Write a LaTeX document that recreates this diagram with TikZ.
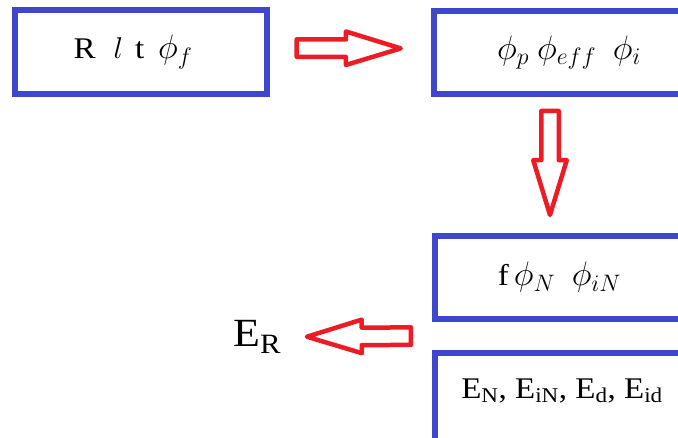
\RequirePackage{fix-cm}
\documentclass[tikz,border=0pt]{standalone}
\usepackage{fontspec}
\setmainfont{Liberation Serif}[FakeStretch=1.1]
\usepackage{tikz}
\usetikzlibrary{shapes.arrows, calc}

\definecolor{boxblue}{RGB}{63,72,204}
\definecolor{arrowred}{RGB}{237,28,36}

% phi with its index, set a little larger than the box text
\newcommand{\fphi}[1]{{\fontsize{34}{36}\selectfont$\phi_{#1}$}}

\tikzset{
    varbox/.style={draw=boxblue, line width=6pt, fill=white, inner sep=0pt,
        font=\fontsize{30}{36}\selectfont},
    hollowarrow/.style={single arrow, draw=arrowred, fill=white, line width=4.5pt,
        line join=round, minimum height=104pt, minimum width=29pt, inner sep=6.5pt,
        single arrow head extend=8pt, single arrow tip angle=34,
        sloped, allow upside down}
}

\begin{document}
\begin{tikzpicture}[x=1pt, y=1pt]

    \useasboundingbox (0,0) rectangle (678,437);
    \clip (0,0) rectangle (678,437);

    % =====================================================
    % BOXES
    % =====================================================
    \node[varbox, minimum width=252pt, minimum height=84pt] (rlt) at (141,385)
        {R\hspace{18pt}$l$\hspace{12pt}t\hspace{14pt}\fphi{f}\hspace{16pt}\null};
    \node[varbox, minimum width=286pt, minimum height=83pt] (phi) at (577,384.5)
        {\fphi{p}\ \fphi{eff}\ \ \fphi{i}\hspace{16pt}\null};
    \node[varbox, minimum width=255pt, minimum height=83pt] (nnf) at (562.5,159.5)
        {f\,\fphi{N}\ \ \fphi{iN}\hspace{6pt}\null};
    % bottom box runs past the lower edge
    \node[varbox, anchor=north west, minimum width=254pt, inner ysep=20pt,
        text height=25pt, text depth=30pt] (eid) at (432,87)
        {E\textsubscript{N}, E\textsubscript{iN}, E\textsubscript{d}, E\textsubscript{id}};

    % Result
    \node[anchor=base west, inner sep=0pt, font=\fontsize{40}{46}\selectfont] (er) at (233,90)
        {E\textsubscript{R}};

    % =====================================================
    % ARROWS (node centre sits in the shaft, so pull back toward the tail)
    % =====================================================
    \path ([yshift=4pt]rlt.east) -- node[hollowarrow, pos=.4] (a1) {} ([yshift=4pt]phi.west);
    \path ([xshift=119pt]phi.south west) -- node[hollowarrow, pos=.38] (a2) {} ([xshift=118pt]nnf.north west);
    \path ($(nnf.south west)!.5!(eid.north west)$) -- node[hollowarrow, pos=.39] (a3) {} (er.east);

\end{tikzpicture}
\end{document}
